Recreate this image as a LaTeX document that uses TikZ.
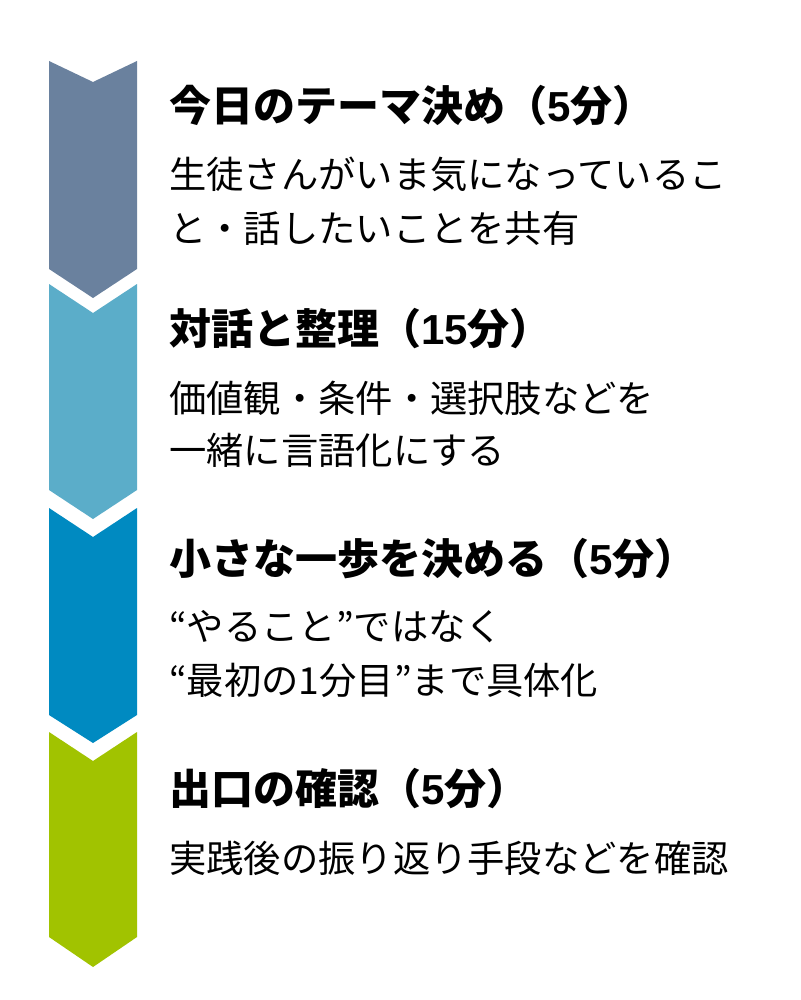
\documentclass[tikz,border=0pt]{standalone}
\usepackage{fontspec}
\setmainfont{Noto Sans CJK JP}
\newfontfamily\lat{Liberation Sans}
\definecolor{cslate}{HTML}{6A819E}
\definecolor{clight}{HTML}{5BADC9}
\definecolor{cblue}{HTML}{008AC1}
\definecolor{cgreen}{HTML}{A1C300}
\tikzset{
  chev/.style={fill=#1, draw=none},
  titletext/.style={anchor=base west, inner sep=0pt, font=\fontsize{42}{50}\selectfont\bfseries},
  bodytext/.style={anchor=base west, inner sep=0pt, font=\fontsize{37.3}{53}\selectfont}
}
\newcommand{\lt}[1]{{\lat #1}}
\begin{document}
\begin{tikzpicture}[x=1pt,y=-1pt]
\useasboundingbox (0,0) rectangle (800,1000);
\fill[white] (0,0) rectangle (800,1000);
% chevrons
\fill[chev=cslate] (49,61) -- (93,82) -- (137,61) -- (137,269) -- (93,298) -- (49,269) -- cycle;
\fill[chev=clight] (49,284) -- (93,313) -- (137,284) -- (137,490) -- (93,519) -- (49,490) -- cycle;
\fill[chev=cblue] (49,508) -- (93,537) -- (137,508) -- (137,715) -- (93,743) -- (49,715) -- cycle;
\fill[chev=cgreen] (49,732) -- (93,761) -- (137,732) -- (137,937) -- (93,967) -- (49,937) -- cycle;
% texts
\node[titletext] (t1) at (169,122) {今日のテーマ決め（\lt{5}分）};
\node[bodytext] (b1a) at (169,189) {生徒さんがいま気になっているこ};
\node[bodytext] (b1b) at (169,242) {と・話したいことを共有};
\node[titletext] (t2) at (169,344) {対話と整理（\lt{15}分）};
\node[bodytext] (b2a) at (169,412) {価値観・条件・選択肢などを};
\node[bodytext] (b2b) at (169,464) {一緒に言語化にする};
\node[titletext] (t3) at (169,574) {小さな一歩を決める（\lt{5}分）};
\node[bodytext] (b3a) at (169,640) {“やること”ではなく};
\node[bodytext] (b3b) at (169,694) {“最初の1分目”まで具体化};
\node[titletext] (t4) at (169,804) {出口の確認（\lt{5}分）};
\node[bodytext] (b4) at (169,872) {実践後の振り返り手段などを確認};
\end{tikzpicture}
\end{document}
